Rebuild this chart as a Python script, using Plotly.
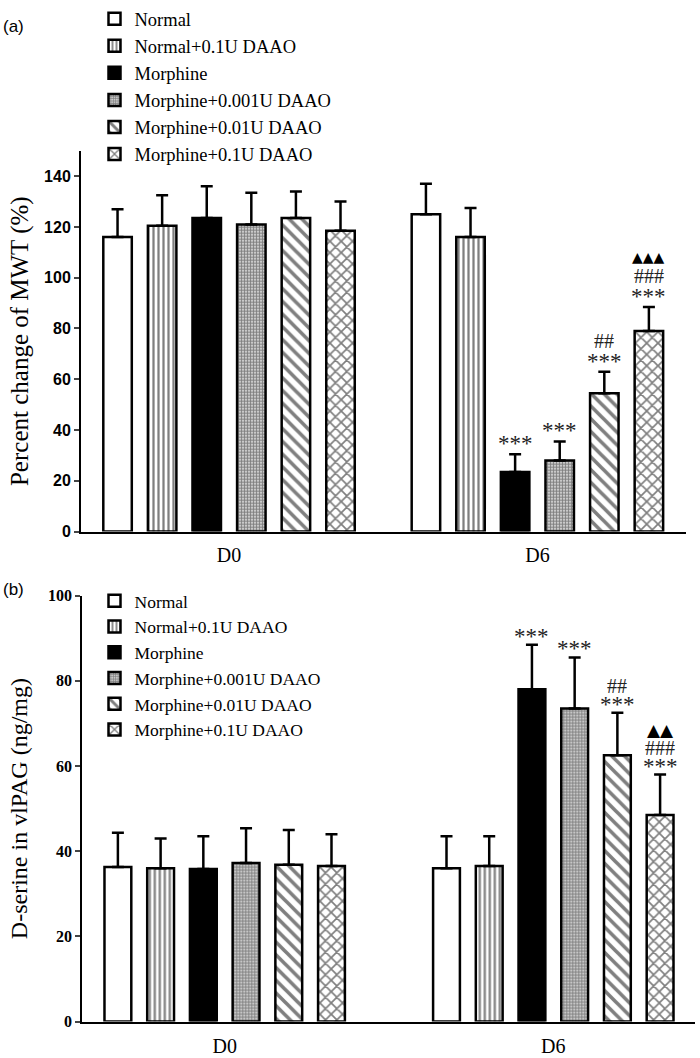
import plotly.graph_objects as go

groups = ["D0", "D6"]
series = ["Normal", "Normal+0.1U DAAO", "Morphine", "Morphine+0.001U DAAO",
          "Morphine+0.01U DAAO", "Morphine+0.1U DAAO"]

# Panel (a): Percent change of MWT (%), values per series as [D0, D6]
mwt_mean = [[116, 125], [120.5, 116], [123.5, 23.5], [121, 28], [123.5, 54.5], [118.5, 79]]
mwt_err = [[11, 12], [12, 11.5], [12.5, 7], [12.5, 7.5], [10.5, 8.5], [11.5, 9.5]]
# significance marks, listed bottom line first
mwt_sig = [[[], []], [[], []], [[], ["***"]], [[], ["***"]],
           [[], ["***", "##"]], [[], ["***", "###", "▲▲▲"]]]

# Panel (b): D-serine in vlPAG (ng/mg)
dser_mean = [[36.3, 36], [36, 36.5], [35.8, 78], [37.2, 73.5], [36.8, 62.5], [36.5, 48.5]]
dser_err = [[8, 7.5], [7, 7], [7.7, 10.5], [8.2, 12], [8.2, 10], [7.5, 9.5]]
dser_sig = [[[], []], [[], []], [[], ["***"]], [[], ["***"]],
            [[], ["***", "##"]], [[], ["***", "###", "▲▲"]]]

styles = [
    dict(color="white", pattern=dict(shape="")),
    dict(color="white", pattern=dict(shape="|", size=5, solidity=0.45, fgcolor="black", bgcolor="white")),
    dict(color="black", pattern=dict(shape="")),
    dict(color="white", pattern=dict(shape=".", size=3, solidity=0.7, fgcolor="black", bgcolor="white")),
    dict(color="white", pattern=dict(shape="\\", size=9, solidity=0.4, fgcolor="black", bgcolor="white")),
    dict(color="white", pattern=dict(shape="x", size=8, solidity=0.38, fgcolor="black", bgcolor="white")),
]

W, H = 700, 1058
SERIF = "Liberation Serif, Times New Roman, serif"
fig = go.Figure()

panels = [
    dict(mean=mwt_mean, err=mwt_err, sig=mwt_sig, xa="x", ya="y", legend="legend",
         slot=0.1446, width=0.0924, shifts=[10.5, 31, 50], tri=14),
    dict(mean=dser_mean, err=dser_err, sig=dser_sig, xa="x2", ya="y2", legend="legend2",
         slot=0.130, width=0.0816, shifts=[8.5, 27, 45], tri=17),
]

for p in panels:
    for i, name in enumerate(series):
        xs = [g + (i - 2.5) * p["slot"] for g in range(len(groups))]
        fig.add_trace(go.Bar(
            x=xs, y=p["mean"][i], width=p["width"], name=name,
            xaxis=p["xa"], yaxis=p["ya"], legend=p["legend"],
            marker=dict(color=styles[i]["color"], pattern=styles[i]["pattern"],
                        line=dict(color="black", width=2.5)),
            error_y=dict(type="data", symmetric=False, array=p["err"][i],
                         arrayminus=[0] * len(groups), color="black", thickness=2.5, width=6),
        ))
        for g in range(len(groups)):
            for k, line in enumerate(p["sig"][i][g]):
                if line.startswith("*"):
                    font = dict(family=SERIF, size=23, color="#222")
                elif line.startswith("#"):
                    font = dict(family=SERIF, size=20, color="#222")
                else:
                    font = dict(family="DejaVu Sans", size=p["tri"], color="black")
                fig.add_annotation(
                    x=xs[g], y=p["mean"][i][g] + p["err"][i][g], xref=p["xa"], yref=p["ya"],
                    text=line, showarrow=False, yanchor="middle", yshift=p["shifts"][k],
                    borderpad=0, font=font,
                )

def ydom(bottom_px, top_px):
    return [1 - bottom_px / H, 1 - top_px / H]

axis_common = dict(showline=True, linecolor="black", linewidth=2, showgrid=False, zeroline=False,
                   automargin=False)

fig.update_layout(
    width=W, height=H,
    font=dict(family=SERIF, color="black"),
    margin=dict(l=0, r=0, t=0, b=0),
    plot_bgcolor="white", paper_bgcolor="white",
    xaxis=dict(domain=[81 / W, 686 / W], range=[-0.480, 1.4818], anchor="y",
               tickvals=[0, 1], ticktext=groups, ticks="", ticklabelstandoff=4,
               tickfont=dict(family=SERIF, size=20, color="black"), **axis_common),
    yaxis=dict(domain=ydom(524, 524 - 150 * 2.575), range=[0, 150], anchor="x",
               tickvals=[0, 20, 40, 60, 80, 100, 120, 140], ticks="outside", ticklen=5, tickwidth=2,
               tickfont=dict(family="Liberation Sans", size=16, color="black", weight="bold"),
               title=dict(text="Percent change of MWT (%)", standoff=8,
                          font=dict(family=SERIF, size=25, color="black")),
               **axis_common),
    xaxis2=dict(domain=[82.3 / W, 695 / W], range=[-0.4333, 1.4312], anchor="y2",
                tickvals=[0, 1], ticktext=groups, ticks="", ticklabelstandoff=5,
                tickfont=dict(family=SERIF, size=20, color="black"), **axis_common),
    yaxis2=dict(domain=ydom(1021, 589), range=[0, 100], anchor="x2",
                tickvals=[0, 20, 40, 60, 80, 100], ticks="outside", ticklen=5, tickwidth=2,
                tickfont=dict(family=SERIF, size=16, color="black", weight="bold"),
                title=dict(text="D-serine in vlPAG (ng/mg)", standoff=14,
                           font=dict(family=SERIF, size=24, color="black")),
                **axis_common),
    legend=dict(x=0.135, y=1 + 15 / H, xanchor="left", yanchor="top", bgcolor="rgba(0,0,0,0)",
                font=dict(family=SERIF, size=18.5, color="black"), tracegroupgap=0),
    legend2=dict(x=0.135, y=1 - 576 / H, xanchor="left", yanchor="top", bgcolor="rgba(0,0,0,0)",
                 font=dict(family=SERIF, size=17.5, color="black"), tracegroupgap=0),
    showlegend=True,
)

fig.add_annotation(x=2 / W, y=1 - 12 / H, xref="paper", yref="paper", text="(a)", showarrow=False,
                   xanchor="left", yanchor="middle", borderpad=0,
                   font=dict(family="Liberation Sans", size=17, color="black"))
fig.add_annotation(x=2 / W, y=1 - 583 / H, xref="paper", yref="paper", text="(b)", showarrow=False,
                   xanchor="left", yanchor="middle", borderpad=0,
                   font=dict(family="Liberation Sans", size=17, color="black"))

fig.write_html("out.html", config={"displayModeBar": False},
               post_script="document.body.style.margin='0';")
